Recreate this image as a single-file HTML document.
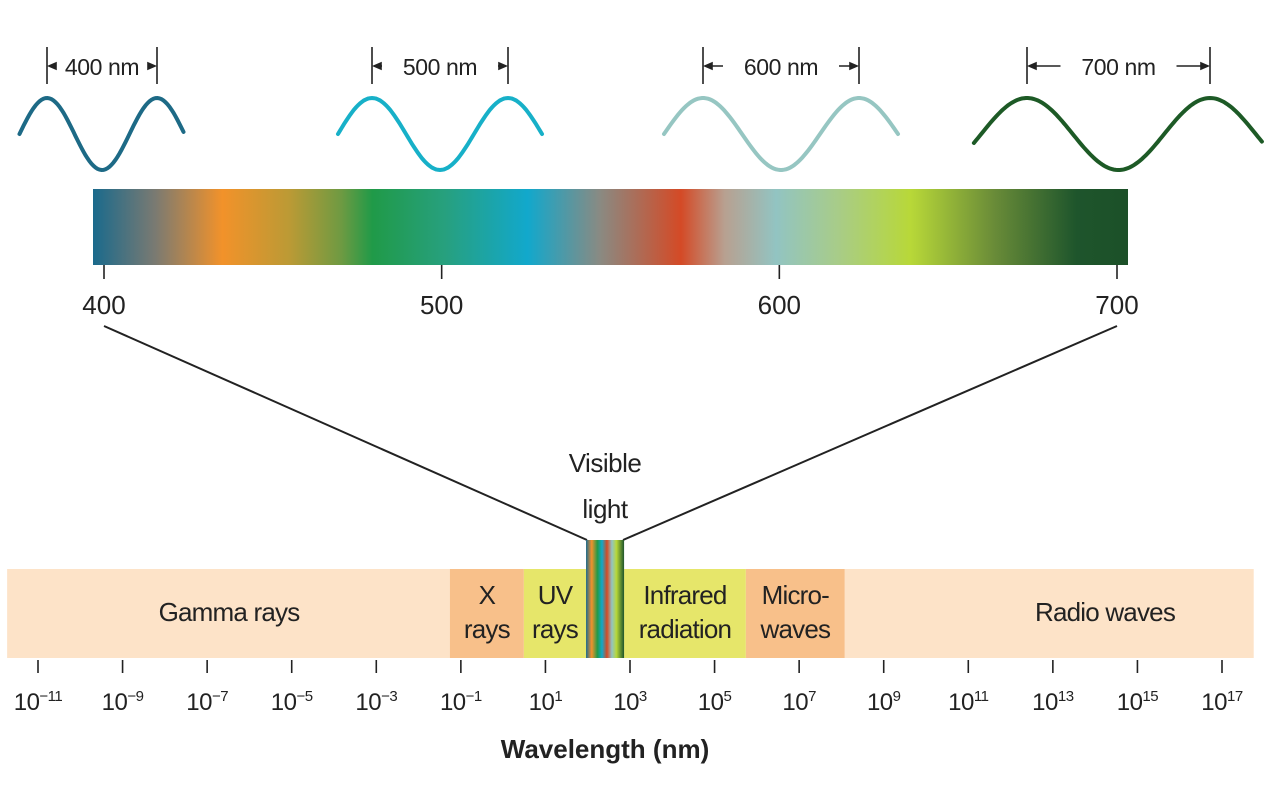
<!DOCTYPE html>
<html><head><meta charset="utf-8"><style>
html,body{margin:0;padding:0;background:#fff;}
svg{display:block;font-family:"Liberation Sans",sans-serif;}
</style></head><body>
<svg id="chart" width="1288" height="802" viewBox="0 0 1288 802" xmlns="http://www.w3.org/2000/svg">
<defs>
<linearGradient id="vis" x1="0" x2="1" y1="0" y2="0">
<stop offset="0" stop-color="#1a6a8c"/>
<stop offset="0.06" stop-color="#7a7a72"/>
<stop offset="0.125" stop-color="#f2922a"/>
<stop offset="0.19" stop-color="#bb9a35"/>
<stop offset="0.24" stop-color="#6e9a42"/>
<stop offset="0.27" stop-color="#209a48"/>
<stop offset="0.34" stop-color="#27a07e"/>
<stop offset="0.42" stop-color="#12a8cc"/>
<stop offset="0.49" stop-color="#8a8a82"/>
<stop offset="0.568" stop-color="#d44a26"/>
<stop offset="0.61" stop-color="#b8a090"/>
<stop offset="0.66" stop-color="#92c4c2"/>
<stop offset="0.72" stop-color="#a8cc88"/>
<stop offset="0.79" stop-color="#b8d838"/>
<stop offset="0.87" stop-color="#6a8c38"/>
<stop offset="0.95" stop-color="#1e552c"/>
<stop offset="1" stop-color="#1c5028"/>
</linearGradient>
<linearGradient id="visStrip" x1="0" x2="1" y1="0" y2="0">
<stop offset="0" stop-color="#1a6a8c"/><stop offset="0.15" stop-color="#f2922a"/>
<stop offset="0.3" stop-color="#209a48"/><stop offset="0.42" stop-color="#12a8cc"/>
<stop offset="0.55" stop-color="#d44a26"/><stop offset="0.68" stop-color="#92c4c2"/>
<stop offset="0.8" stop-color="#b8d838"/><stop offset="1" stop-color="#1e552c"/>
</linearGradient>
</defs>
<g id="waves"></g>
<rect x="93" y="189" width="1035" height="76" fill="url(#vis)"/>
<g id="nmTicks"></g>
<line x1="104" y1="326" x2="587" y2="540" stroke="#222" stroke-width="2"/>
<line x1="1117" y1="326" x2="623" y2="540" stroke="#222" stroke-width="2"/>
<text x="605" y="472" font-size="26" letter-spacing="-0.5" text-anchor="middle" fill="#222">Visible</text>
<text x="605" y="518" font-size="26" letter-spacing="-0.5" text-anchor="middle" fill="#222">light</text>
<g id="bands"></g>
<g id="specTicks"></g>
<text x="605" y="758" font-size="26" font-weight="bold" text-anchor="middle" fill="#222">Wavelength (nm)</text>
<script>
const NS="http://www.w3.org/2000/svg";
const waveNm=[400,500,600,700];
const waveColors=["#1d6a86","#17b0c8","#96c6c2","#1d5a26"];
const waveLeft=[47,372,703,1027];
const waveRight=[157,508,859,1210];
const nmTickVals=[400,500,600,700];
const expTicks=[-11,-9,-7,-5,-3,-1,1,3,5,7,9,11,13,15,17];
const bandNames=[["Gamma rays"],["X","rays"],["UV","rays"],["Infrared","radiation"],["Micro-","waves"],["Radio waves"]];
const bandStart=[-11.73,-1.26,0.49,2.86,5.74,8.08];
const bandEnd=[-1.26,0.49,1.96,5.74,8.08,17.75];
const bandFill=["#fde3c8","#f8c08a","#e6e66a","#e6e66a","#f8c08a","#fde3c8"];
const visStart=1.96, visEnd=2.86;
function el(t,a,p){const e=document.createElementNS(NS,t);for(const k in a)e.setAttribute(k,a[k]);p.appendChild(e);return e;}
const nmX=v=>104+(v-400)*(1117-104)/300;
const ex=v=>38+(v+11)*(1222-38)/28;
const W=document.getElementById('waves');
waveNm.forEach((nm,i)=>{
  const x0=waveLeft[i],x1=waveRight[i],P=x1-x0;let d="";
  const ext=i===3?0.29:0.25;
  for(let x=x0-P*ext;x<=x1+P*ext;x+=2){const y=134-36*Math.cos(2*Math.PI*(x-x0)/P);d+=(d?"L":"M")+x.toFixed(1)+","+y.toFixed(1);}
  const p=el('path',{d:d,fill:"none",stroke:waveColors[i],"stroke-width":4,"stroke-linecap":"round"},W);
  
  
  const g=el('g',{stroke:"#222","stroke-width":1.6},W);
  
  
  el('line',{x1:x0,y1:47,x2:x0,y2:84},g);el('line',{x1:x1,y1:47,x2:x1,y2:84},g);
  const t=el('text',{x:(x0+x1)/2,y:75,"font-size":23,"letter-spacing":"-0.4","text-anchor":"middle",fill:"#222",stroke:"none"},W);
  t.textContent=nm+" nm";
  
  
  const tw=nm===400?50:58;const cx=(x0+x1)/2;
  el('path',{d:`M${x0+2},66 L${cx-tw},66 M${x0+2},66 l7,-3 v6 z M${x1-2},66 L${cx+tw},66 M${x1-2},66 l-7,-3 v6 z`,fill:"#222"},g);
});
const NT=document.getElementById('nmTicks');
nmTickVals.forEach(v=>{
  const l=el('line',{x1:nmX(v),y1:265,x2:nmX(v),y2:279,stroke:"#222","stroke-width":1.6},NT);
  
  
  const t=el('text',{x:nmX(v),y:314,"font-size":26,"text-anchor":"middle",fill:"#222"},NT);
  t.textContent=v;
  
  
});
const B=document.getElementById('bands');
bandNames.forEach((nm,i)=>{
  const xa=ex(bandStart[i]),xb=ex(bandEnd[i]);
  const r=el('rect',{x:xa,y:569,width:xb-xa,height:89,fill:bandFill[i]},B);
  
  
  let cx=(xa+xb)/2; if(i===0)cx=229; if(i===5)cx=1105; if(i===2)cx=555;
  nm.forEach((line,j)=>{
    const y=nm.length===1?621:604+j*34;
    const t=el('text',{x:cx,y:y,"font-size":26,"letter-spacing":"-0.8","text-anchor":"middle",fill:"#222"},B);
    t.textContent=line;
    
    
  });
});
const vs=el('rect',{x:ex(visStart),y:540,width:ex(visEnd)-ex(visStart),height:118,fill:"url(#visStrip)"},B);


const ST=document.getElementById('specTicks');
expTicks.forEach(v=>{
  const l=el('line',{x1:ex(v),y1:660,x2:ex(v),y2:673,stroke:"#222","stroke-width":1.6},ST);
  
  
  const t=el('text',{x:ex(v),y:710,"font-size":24,"letter-spacing":"-0.5","text-anchor":"middle",fill:"#222"},ST);
  
  
  const a=el('tspan',{},t);a.textContent="10";
  const b=el('tspan',{dy:-9,"font-size":15},t);b.textContent=(v<0?"\u2212":"")+Math.abs(v);
});
</script>
</svg>
</body></html>
